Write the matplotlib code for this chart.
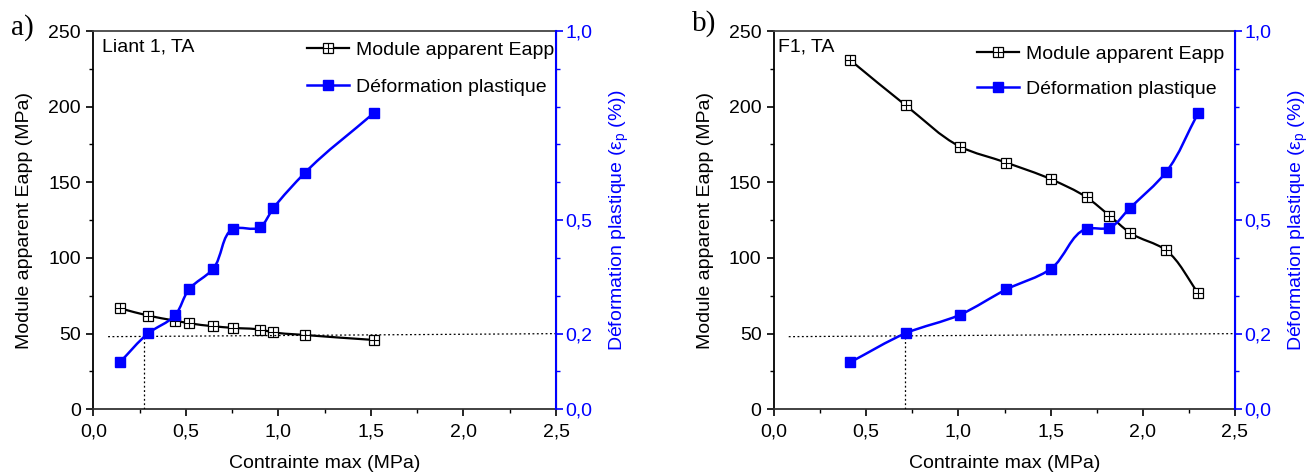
import matplotlib
matplotlib.use("Agg")
import matplotlib.pyplot as plt
import numpy as np
from matplotlib.path import Path
from matplotlib.patches import PathPatch
from matplotlib.lines import Line2D
from matplotlib.legend_handler import HandlerTuple
from matplotlib.ticker import MultipleLocator, FuncFormatter

plt.rcParams['font.family'] = ['Liberation Sans', 'DejaVu Sans']

# ---------------- data ----------------
x_a = [0.143, 0.297, 0.441, 0.517, 0.647, 0.756, 0.899, 0.972, 1.143, 1.518]
eapp_a = [66.8, 61.9, 58.6, 56.9, 54.9, 53.8, 52.7, 50.9, 49.1, 45.8]
def_a = [0.124, 0.201, 0.248, 0.317, 0.371, 0.477, 0.481, 0.531, 0.625, 0.784]

x_b = [0.412, 0.714, 1.009, 1.260, 1.503, 1.695, 1.819, 1.930, 2.126, 2.301]
eapp_b = [230.9, 200.9, 173.6, 163.0, 152.0, 140.1, 128.0, 116.7, 105.1, 76.7]
def_b = [0.124, 0.201, 0.250, 0.317, 0.372, 0.477, 0.480, 0.532, 0.627, 0.784]

panel_letters = ['a)', 'b)']
panel_titles = ['Liant 1, TA', 'F1, TA']
ref_x = [0.276, 0.71]         # vertical dotted line (stress at 0.2 % strain)
ref_def = 0.197               # horizontal dotted line (right axis)
legend_labels = ['Module apparent Eapp', 'Déformation plastique']
xlabel = 'Contrainte max (MPa)'
ylabel_left = 'Module apparent Eapp (MPa)'
ylabel_right = r'Déformation plastique ($\mathregular{\epsilon_p}$ (%))'

BLUE = '#0000FF'


def smooth_path(xs, ys, sx, sy):
    """Chordal Catmull-Rom curve through the points (cubic Bezier segments).
    sx, sy: scale factors (pixels per data unit) used only for chord lengths."""
    P = np.column_stack([xs, ys]).astype(float)
    Q = P * np.array([sx, sy])
    n = len(P)
    dt = np.linalg.norm(np.diff(Q, axis=0), axis=1)
    M = np.zeros_like(P)
    M[0] = (P[1] - P[0]) / dt[0]
    M[-1] = (P[-1] - P[-2]) / dt[-1]
    for i in range(1, n - 1):
        a = (P[i] - P[i - 1]) / dt[i - 1]
        b = (P[i + 1] - P[i]) / dt[i]
        M[i] = (a * dt[i] + b * dt[i - 1]) / (dt[i - 1] + dt[i])
    verts = [P[0]]
    codes = [Path.MOVETO]
    for i in range(n - 1):
        verts += [P[i] + M[i] * dt[i] / 3.0, P[i + 1] - M[i + 1] * dt[i] / 3.0, P[i + 1]]
        codes += [Path.CURVE4] * 3
    return Path(verts, codes)


def comma(v, pos, fmt):
    return (fmt % v).replace('.', ',')


fig = plt.figure(figsize=(13.09, 4.72), dpi=100)
W, H = 1309, 472
panels = [(93.3, 556.0, x_a, eapp_a, def_a), (774.0, 1235.0, x_b, eapp_b, def_b)]
legend_pos = [(307.0, 41.0), (977.0, 45.0)]
legend_spacing = [1.0, 0.9]
title_x = [101.7, 778.0]
letter_y = [28, 24]
fs = 14
y0, y1 = 409.3, 31.0

for k, (l, r, xs, ea, de) in enumerate(panels):
    aw, ah = r - l, y0 - y1
    ax = fig.add_axes([l / W, 1 - y0 / H, aw / W, ah / H])
    ax2 = ax.twinx()
    ax.set_xlim(0, 2.5)
    ax.set_ylim(0, 250)
    ax2.set_ylim(0, 1.0)

    # Eapp curve
    ax.add_patch(PathPatch(smooth_path(xs, ea, aw / 2.5, ah / 250), fill=False,
                           edgecolor='black', lw=1.6, zorder=3))
    ax.plot(xs, ea, ls='none', marker='s', ms=6.5, mfc='white', mec='black', mew=0.9, zorder=4)
    ax.plot(xs, ea, ls='none', marker='+', ms=6.5, mec='black', mew=0.8, zorder=5)

    # deformation curve
    ax2.add_patch(PathPatch(smooth_path(xs, de, aw / 2.5, ah / 1.0), fill=False,
                            edgecolor=BLUE, lw=1.8, zorder=3))
    ax2.plot(xs, de, ls='none', marker='s', ms=7, mfc=BLUE, mec=BLUE, zorder=4)

    # reference dotted lines
    ax2.plot([0.08, 2.5], [ref_def - 0.005, ref_def + 0.003], color='black', lw=0.9,
             ls=(0, (1.5, 2)), zorder=2)
    ax2.plot([ref_x[k], ref_x[k]], [0, ref_def], color='black', lw=0.9,
             ls=(0, (1.5, 2)), zorder=2)

    # ticks
    ax.xaxis.set_major_locator(MultipleLocator(0.5))
    ax.xaxis.set_minor_locator(MultipleLocator(0.25))
    ax.yaxis.set_major_locator(MultipleLocator(50))
    ax.yaxis.set_minor_locator(MultipleLocator(25))
    ax2.yaxis.set_minor_locator(MultipleLocator(0.1))
    ax2.set_yticks([0.0, 0.2, 0.5, 1.0])
    ax.xaxis.set_major_formatter(FuncFormatter(lambda v, p: comma(v, p, '%.1f')))
    ax2.yaxis.set_major_formatter(FuncFormatter(lambda v, p: comma(v, p, '%.1f')))

    ax.tick_params(axis='both', which='major', direction='out', length=5, width=1.2, labelsize=fs)
    ax.tick_params(axis='x', which='major', pad=5)
    ax.tick_params(axis='y', which='major', pad=4)
    ax.tick_params(axis='both', which='minor', direction='out', length=3, width=1.0)
    ax.tick_params(axis='y', which='both', right=False)
    ax2.tick_params(axis='y', which='major', direction='out', length=5, width=1.2, colors=BLUE,
                    labelsize=fs, pad=1.5)
    ax2.tick_params(axis='y', which='minor', direction='out', length=3, width=1.0, colors=BLUE)

    for s in ['left', 'bottom', 'top']:
        ax.spines[s].set_linewidth(1.3)
    ax.spines['bottom'].set_color('#333333')
    ax.spines['top'].set_color('#444444')
    ax2.spines['right'].set_color(BLUE)
    ax2.spines['right'].set_linewidth(1.5)
    for s in ['left', 'bottom', 'top']:
        ax2.spines[s].set_visible(False)

    ax.set_xlabel(xlabel, fontsize=fs, labelpad=11)
    ax.set_ylabel(ylabel_left, fontsize=fs, labelpad=11)
    ax2.set_ylabel(ylabel_right, fontsize=fs, color=BLUE, labelpad=11)

    ax.text((title_x[k] - l) / aw, (y0 - 47) / ah, panel_titles[k], transform=ax.transAxes,
            fontsize=fs, va='center', ha='left')
    fig.text((l - 82) / W, 1 - letter_y[k] / H, panel_letters[k], fontsize=21,
             family='Liberation Serif', va='center', ha='left')

    h1 = (Line2D([], [], color='black', lw=1.6),
          Line2D([], [], ls='none', marker='s', ms=6.5, mfc='white', mec='black', mew=0.9),
          Line2D([], [], ls='none', marker='+', ms=6.5, mec='black', mew=0.8))
    h2 = (Line2D([], [], color=BLUE, lw=1.8),
          Line2D([], [], ls='none', marker='s', ms=7, mfc=BLUE, mec=BLUE))
    lx, ly = legend_pos[k]
    ax2.legend([h1, h2], legend_labels, handler_map={tuple: HandlerTuple(ndivide=1, pad=0)},
               loc='upper left', bbox_to_anchor=((lx - l) / aw, (y0 - ly) / ah),
               frameon=False, fontsize=fs, handlelength=2.15, handletextpad=0.35,
               labelspacing=legend_spacing[k], borderpad=0, borderaxespad=0, numpoints=1)

fig.savefig('out.png', dpi=100)
